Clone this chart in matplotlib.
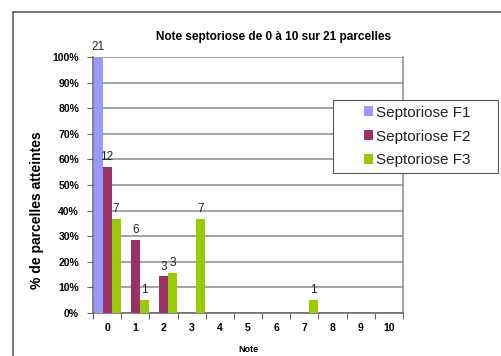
import numpy as np
import matplotlib.pyplot as plt
from matplotlib.lines import Line2D
from matplotlib.ticker import FixedLocator, NullFormatter

plt.rcParams['font.family'] = ['Liberation Sans', 'DejaVu Sans']

notes = [str(i) for i in range(11)]
series = ['Septoriose F1', 'Septoriose F2', 'Septoriose F3']
colors = ['#9999FF', '#993366', '#99CC00']

# number of plots per note, and the total each series is counted on
counts_f1 = [21, 0, 0, 0, 0, 0, 0, 0, 0, 0, 0]
counts_f2 = [12, 6, 3, 0, 0, 0, 0, 0, 0, 0, 0]
counts_f3 = [7, 1, 3, 7, 0, 0, 0, 1, 0, 0, 0]
totals = [21, 21, 19]

W, H = 501, 356
fig = plt.figure(figsize=(W / 100, H / 100), dpi=100)
ax = fig.add_axes([93 / W, (H - 313) / H, 310 / W, 256 / H])

x = np.arange(len(notes))
bw = 0.32
for k, (counts, tot, col, name) in enumerate(zip([counts_f1, counts_f2, counts_f3], totals, colors, series)):
    pct = np.array(counts) / tot * 100
    pos = x + (k - 1) * bw
    ax.bar(pos, pct, width=bw, color=col, label=name, zorder=3)
    for p, v, c in zip(pos, pct, counts):
        if c > 0:
            ax.text(p, v + 1.5, str(c), ha='center', va='bottom', fontsize=8.5,
                    color='#222222', clip_on=False, zorder=4)

ax.set_xlim(-0.5, len(notes) - 0.5)
ax.set_ylim(0, 100)
ax.set_yticks(np.arange(0, 101, 10))
ax.set_yticklabels([f'{v}%' for v in range(0, 101, 10)], fontsize=7.5, fontweight='bold')
ax.yaxis.grid(True, color='#8c8c8c', linewidth=1.1, zorder=0)

# category labels centred, tick marks on the boundaries
ax.xaxis.set_major_locator(FixedLocator(np.arange(-0.5, len(notes), 1)))
ax.xaxis.set_major_formatter(NullFormatter())
ax.xaxis.set_minor_locator(FixedLocator(x))
ax.set_xticklabels(notes, minor=True, fontsize=7.5, fontweight='bold')
ax.tick_params(axis='x', which='minor', length=0, pad=7)
ax.tick_params(axis='x', which='major', length=4, color='#666666')
ax.tick_params(axis='y', length=4, color='#666666', pad=6)

ax.spines['top'].set_visible(False)
ax.spines['left'].set_color('#666666')
ax.spines['bottom'].set_color('#666666')
ax.spines['right'].set_color('#8c8c8c')
for s in ax.spines.values():
    s.set_linewidth(1.1)

ax.set_xlabel('Note', fontsize=6.5, fontweight='bold', labelpad=9)
fig.text(37 / W, 1 - 210 / H, '% de parcelles atteintes', rotation=90, ha='center', va='center',
         fontsize=10, fontweight='bold')
fig.text(274 / W, 1 - 37 / H, 'Note septoriose de 0 à 10 sur 21 parcelles', ha='center', va='center',
         fontsize=8.5, fontweight='bold')

# white legend box over the gridlines, entries drawn on top
fig.add_artist(plt.Rectangle((333 / W, 1 - 173 / H), 165 / W, 73 / H, transform=fig.transFigure,
                             facecolor='white', edgecolor='#555555', linewidth=0.8, zorder=1))
handles, labels = ax.get_legend_handles_labels()
leg = fig.legend(handles, labels, loc='center', bbox_to_anchor=(335 / W, 1 - 173 / H, 165 / W, 73 / H),
                 fontsize=11, frameon=False, handlelength=0.6, handleheight=0.6, handletextpad=0.2,
                 borderpad=0.3, labelspacing=0.65, borderaxespad=0)
for t in leg.get_texts():
    t.set_color('#222222')

# outer chart frame
fig.add_artist(Line2D([13 / W, 1], [1 - 11.5 / H] * 2, color='#555555', linewidth=1.1))
fig.add_artist(Line2D([13 / W] * 2, [0, 1 - 11.5 / H], color='#555555', linewidth=1.1))

fig.savefig('out.png', dpi=100)
